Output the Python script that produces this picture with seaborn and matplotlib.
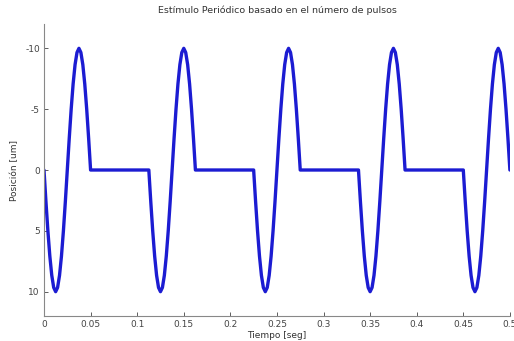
import matplotlib
matplotlib.use("Agg")
import matplotlib.pyplot as plt
import seaborn as sns
import pandas as pd

# --- data ---
pulse_starts = [0.0, 0.1125, 0.225, 0.3375, 0.45]      # seconds
pulse_offsets = [0.0, 0.002083, 0.004167, 0.00625, 0.008333, 0.010417, 0.0125,
                 0.014583, 0.016667, 0.01875, 0.020833, 0.022917, 0.025,
                 0.027083, 0.029167, 0.03125, 0.033333, 0.035417, 0.0375,
                 0.039583, 0.041667, 0.04375, 0.045833, 0.047917, 0.05]
pulse_values = [0.0, 2.59, 5.0, 7.07, 8.66, 9.66, 10.0, 9.66, 8.66, 7.07, 5.0, 2.59, 0.0,
                -2.59, -5.0, -7.07, -8.66, -9.66, -10.0, -9.66, -8.66, -7.07, -5.0, -2.59, 0.0]
x_ticks = [0, 0.05, 0.1, 0.15, 0.2, 0.25, 0.3, 0.35, 0.4, 0.45, 0.5]
x_tick_labels = ["0", "0.05", "0.1", "0.15", "0.2", "0.25", "0.3", "0.35", "0.4", "0.45", "0.5"]
y_ticks = [-10, -5, 0, 5, 10]
y_tick_labels = ["-10", "-5", "0", "5", "10"]

rows = []
for s in pulse_starts:
    for o, v in zip(pulse_offsets, pulse_values):
        rows.append({"t": s + o, "pos": v})
df = pd.DataFrame(rows)

sns.set_style("ticks")
plt.rcParams["font.family"] = ["DejaVu Sans"]

fig = plt.figure(figsize=(5.14, 3.41), dpi=100)
ax = fig.add_axes([0.0856, 0.0733, 0.9064, 0.8563])

sns.lineplot(data=df, x="t", y="pos", sort=False, estimator=None,
             color="#1c1cd2", linewidth=2.4, ax=ax)

ax.set_xlim(0, 0.5)
ax.set_ylim(12, -12)
ax.set_xticks(x_ticks)
ax.set_xticklabels(x_tick_labels)
ax.set_yticks(y_ticks)
ax.set_yticklabels(y_tick_labels)
ax.tick_params(direction="in", length=3, width=0.6, labelsize=6.5,
               colors="#444444", pad=3)
for sp in ["top", "right"]:
    ax.spines[sp].set_visible(False)
for sp in ["left", "bottom"]:
    ax.spines[sp].set_color("#888888")
    ax.spines[sp].set_linewidth(0.8)

ax.set_xlabel("Tiempo [seg]", fontsize=6.5, color="#333333", labelpad=1)
ax.set_ylabel("Posición [um]", fontsize=6.5, color="#333333", labelpad=4)
ax.set_title("Estímulo Periódico basado en el número de pulsos",
             fontsize=6.8, color="#333333", pad=8)

fig.savefig("out.png", dpi=100)
